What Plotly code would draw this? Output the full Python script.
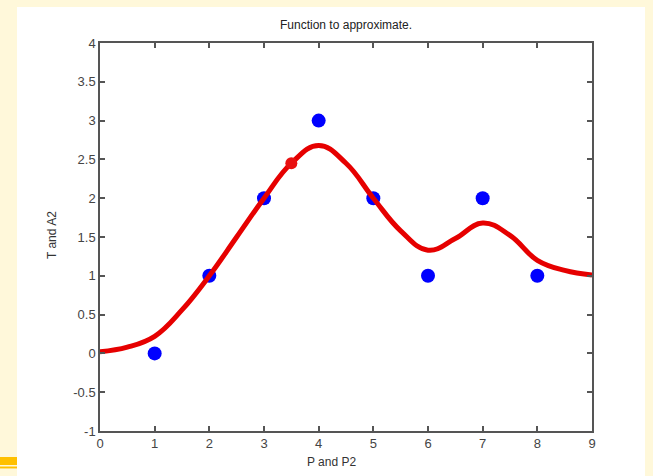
import plotly.graph_objects as go

# Data
P = [1, 2, 3, 4, 5, 6, 7, 8]
T = [0, 1, 2, 3, 2, 1, 2, 1]
P2 = [0, 0.5, 1, 1.5, 2, 2.5, 3, 3.5, 4, 4.5, 5, 5.5, 6, 6.5, 7, 7.5, 8, 8.5, 9]
A2 = [0.02, 0.08, 0.22, 0.56, 1.0, 1.5, 2.0, 2.45, 2.68, 2.45, 2.0, 1.58, 1.33, 1.48, 1.68, 1.52, 1.2, 1.07, 1.01]
mark_x = [3.5]
mark_y = [2.45]

xticks = [0, 1, 2, 3, 4, 5, 6, 7, 8, 9]
yticks = [-1, -0.5, 0, 0.5, 1, 1.5, 2, 2.5, 3, 3.5, 4]
ytick_text = ["-1", "-0.5", "0", "0.5", "1", "1.5", "2", "2.5", "3", "3.5", "4"]

fig = go.Figure()
fig.add_trace(go.Scatter(x=P, y=T, mode="markers",
                         marker=dict(color="#0000FF", size=14, line=dict(width=0)),
                         showlegend=False, cliponaxis=False))
fig.add_trace(go.Scatter(x=P2, y=A2, mode="lines",
                         line=dict(color="#E60000", width=5, shape="spline", smoothing=1.2),
                         showlegend=False, cliponaxis=False))
fig.add_trace(go.Scatter(x=mark_x, y=mark_y, mode="markers",
                         marker=dict(color="#E81010", size=12),
                         showlegend=False))

axis_common = dict(showgrid=False, zeroline=False, showline=True, linecolor="#555555",
                   linewidth=1.5, mirror="ticks", ticks="inside", ticklen=5,
                   tickcolor="#555555", tickwidth=1.5,
                   tickfont=dict(family="Liberation Sans, Arial", size=13, color="#444444"))

fig.update_layout(
    width=653, height=476,
    margin=dict(l=100, r=61, t=43, b=45),
    paper_bgcolor="#FFF8DA",
    plot_bgcolor="#FFFFFF",
    xaxis=dict(range=[0, 9], tickvals=xticks, **axis_common),
    yaxis=dict(range=[-1, 4], tickvals=yticks, ticktext=ytick_text, **axis_common),
    shapes=[
        dict(type="rect", xref="paper", yref="paper", x0=-0.1687, x1=1.1077, y0=-0.2, y1=1.0928,
             fillcolor="#FFFFFF", line=dict(width=0), layer="below"),
        dict(type="rect", xref="paper", yref="paper", x0=-0.21, x1=-0.1687, y0=-0.0876, y1=-0.067,
             fillcolor="#FFC000", line=dict(width=0), layer="below"),
        dict(type="rect", xref="paper", yref="paper", x0=-0.21, x1=-0.1687, y0=-0.0965, y1=-0.0915,
             fillcolor="#FFC000", line=dict(width=0), layer="below"),
    ],
    annotations=[
        dict(text="Function to approximate.", xref="paper", yref="paper", x=0.5, y=(431 - 25) / 388,
             showarrow=False, xanchor="center", yanchor="middle",
             font=dict(family="Liberation Sans, Arial", size=12, color="#222222")),
        dict(text="P and P2", xref="paper", yref="paper", x=0.47, y=(431 - 462) / 388,
             showarrow=False, xanchor="center", yanchor="middle",
             font=dict(family="Liberation Sans, Arial", size=12, color="#333333")),
        dict(text="T and A2", xref="paper", yref="paper", x=(52 - 100) / 492, y=(431 - 235) / 388,
             showarrow=False, xanchor="center", yanchor="middle", textangle=-90,
             font=dict(family="Liberation Sans, Arial", size=12, color="#333333")),
    ],
)

fig.write_html("out.html")
